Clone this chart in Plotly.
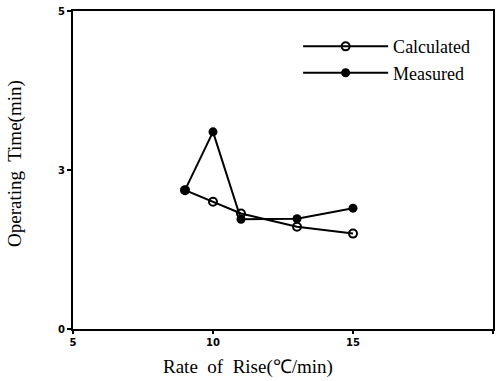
import plotly.graph_objects as go

rate = [9, 10, 11, 13, 15]
calculated = [2.62, 2.40, 2.18, 1.93, 1.80]
measured = [2.62, 3.72, 2.07, 2.08, 2.28]

x_ticks = [5, 10, 15, 20]
y_tickvals = [0, 3, 6]
y_ticktext = ["0", "3", "5"]

x_title = "Rate  of  Rise(℃/min)"
y_title = "Operating  Time(min)"

fig = go.Figure()
fig.add_trace(go.Scatter(
    x=rate, y=calculated, name="Calculated", mode="lines+markers",
    line=dict(color="black", width=2),
    marker=dict(symbol="circle-open", size=8, color="black", line=dict(width=2)),
))
fig.add_trace(go.Scatter(
    x=rate, y=measured, name="Measured", mode="lines+markers",
    line=dict(color="black", width=2),
    marker=dict(symbol="circle", size=9, color="black"),
))

tickfont = dict(family="DejaVu Sans", size=10, color="black", weight="bold")
titlefont = dict(family="Liberation Serif", size=19, color="black")

fig.update_layout(
    width=499, height=381,
    margin=dict(l=73, r=6, t=11, b=52, autoexpand=False),
    paper_bgcolor="white", plot_bgcolor="white",
    showlegend=True,
    legend=dict(x=0.536, y=0.946, xanchor="left", yanchor="top",
                font=dict(family="Liberation Serif", size=18, color="black"),
                itemwidth=85, tracegroupgap=0,
                bgcolor="rgba(0,0,0,0)"),
    xaxis=dict(range=[5, 20], tickvals=x_ticks, ticktext=[str(v) for v in x_ticks],
               showgrid=False, zeroline=False, showline=True, linecolor="black",
               linewidth=2, mirror=True, ticks="outside", ticklen=3, tickwidth=2,
               tickcolor="black", tickfont=tickfont, automargin=False),
    yaxis=dict(range=[0, 6], tickvals=y_tickvals, ticktext=y_ticktext,
               showgrid=False, zeroline=False, showline=True, linecolor="black",
               linewidth=2, mirror=True, ticks="outside", ticklen=4, tickwidth=2,
               tickcolor="black", tickfont=tickfont, automargin=False),
    annotations=[
        dict(text=x_title, xref="paper", yref="paper", x=0.417, y=-0.119,
             xanchor="center", yanchor="middle", showarrow=False, font=titlefont),
        dict(text=y_title, xref="paper", yref="paper", x=-0.138, y=0.519,
             xanchor="center", yanchor="middle", showarrow=False, textangle=-90,
             font=titlefont),
    ],
)

fig.write_html("out.html")
